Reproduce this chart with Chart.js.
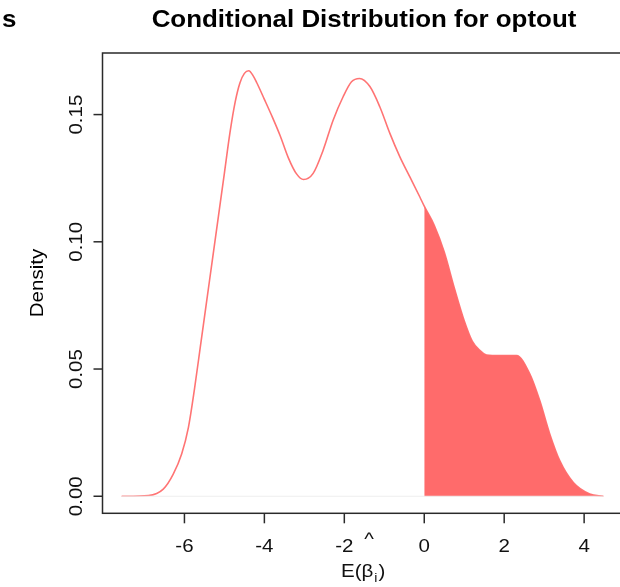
<!DOCTYPE html>
<html>
<head>
<meta charset="utf-8">
<script src="https://cdn.jsdelivr.net/npm/chart.js@4.4.0/dist/chart.umd.min.js"></script>
<style>
html, body { margin: 0; padding: 0; overflow: hidden; background: #fff; }
</style>
</head>
<body>
<canvas id="densityChart" width="625" height="587"></canvas>
<script>
// density estimate
const xs = [-7.57, -6.90, -6.53, -6.28, -6.07, -5.90, -5.75, -5.60, -5.45, -5.30, -5.15, -5.00,
    -4.86, -4.73, -4.61, -4.50, -4.39, -4.28, -4.19, -4.00, -3.80, -3.60, -3.40, -3.20, -3.02, -2.78,
    -2.53, -2.28, -2.03, -1.82, -1.62, -1.36, -1.11, -0.86, -0.61, -0.36, -0.11, 0, 0.25, 0.50, 0.75,
    1.00, 1.20, 1.39, 1.56, 1.90, 2.31, 2.64, 2.89, 3.14, 3.39, 3.73, 4.14, 4.48];
const ys = [0, 0.0003, 0.0028, 0.0087, 0.0166, 0.0271, 0.0420, 0.0590, 0.0760, 0.0930, 0.1100, 0.1270,
    0.1430, 0.1550, 0.1625, 0.1662, 0.1672, 0.1652, 0.1625, 0.1560, 0.1490, 0.1415, 0.1330, 0.1268, 0.1245, 0.1269,
    0.1360, 0.1478, 0.1570, 0.1629, 0.1642, 0.1610, 0.1530, 0.1426, 0.1334, 0.1255, 0.1176, 0.1140, 0.1065, 0.0960, 0.0820,
    0.0690, 0.0610, 0.0573, 0.0555, 0.0553, 0.0553, 0.0481, 0.0376, 0.0245, 0.0140, 0.0054, 0.0009, 0];
const cutoff = 0;

const xTicks = [-6, -4, -2, 0, 2, 4];
const yTicks = [0, 0.05, 0.10, 0.15];
const yTickLabels = ['0.00', '0.05', '0.10', '0.15'];

const curve = xs.map((x, i) => ({ x: x, y: ys[i] }));
const tail = curve.filter(p => p.x >= cutoff);
const zeroLine = [{ x: xs[0], y: 0 }, { x: xs[xs.length - 1], y: 0 }];

const FONT = '"Liberation Sans", Arial, sans-serif';
const STRETCH = 1.08;

function drawText(ctx, text, x, y, font, align, rot) {
    ctx.save();
    ctx.translate(x, y);
    ctx.rotate(rot || 0);
    ctx.scale(STRETCH, 1);
    ctx.font = font;
    ctx.textAlign = align;
    ctx.textBaseline = 'alphabetic';
    ctx.fillText(text, 0, 0);
    ctx.restore();
}

const axesPlugin = {
    id: 'rAxes',
    afterDraw(chart) {
        const ctx = chart.ctx;
        const a = chart.chartArea;
        const xs_ = chart.scales.x, ys_ = chart.scales.y;
        ctx.save();
        ctx.strokeStyle = '#2a2a2a';
        ctx.lineWidth = 1.5;
        ctx.strokeRect(a.left, a.top, a.right - a.left, a.bottom - a.top);

        ctx.fillStyle = '#111';
        // x axis ticks
        xTicks.forEach(v => {
            const px = xs_.getPixelForValue(v);
            ctx.beginPath();
            ctx.moveTo(px, a.bottom);
            ctx.lineTo(px, a.bottom + 10);
            ctx.stroke();
            drawText(ctx, String(v), px, 552, '19px ' + FONT, 'center');
        });
        // y axis ticks
        yTicks.forEach((v, i) => {
            const py = ys_.getPixelForValue(v);
            ctx.beginPath();
            ctx.moveTo(a.left, py);
            ctx.lineTo(a.left - 9, py);
            ctx.stroke();
            drawText(ctx, yTickLabels[i], 81.5, py, '19px ' + FONT, 'center', -Math.PI / 2);
        });

        // titles
        ctx.fillStyle = '#000';
        drawText(ctx, 'Conditional Distribution for optout', 364, 27, 'bold 24px ' + FONT, 'center');
        drawText(ctx, 's', 2, 27, 'bold 24px ' + FONT, 'left');
        drawText(ctx, 'Density', 43, 283, '19px ' + FONT, 'center', -Math.PI / 2);

        // x label E(beta-hat_i)
        ctx.fillStyle = '#111';
        let x = 341;
        ctx.font = '19px ' + FONT;
        drawText(ctx, 'E(β', x, 577, '19px ' + FONT, 'left');
        x += ctx.measureText('E(β').width * STRETCH + 1;
        ctx.font = '13px ' + FONT;
        drawText(ctx, 'i', x, 582, '13px ' + FONT, 'left');
        x += ctx.measureText('i').width * STRETCH + 1;
        drawText(ctx, ')', x, 577, '19px ' + FONT, 'left');
        drawText(ctx, '^', 369, 545, '19px ' + FONT, 'center');
        ctx.restore();
    }
};

new Chart(document.getElementById('densityChart').getContext('2d'), {
    type: 'line',
    data: {
        datasets: [
            {
                data: zeroLine,
                borderColor: '#eeeeee',
                borderWidth: 1,
                pointRadius: 0,
                fill: false
            },
            {
                data: tail,
                borderColor: '#ff6b6b',
                borderWidth: 0,
                backgroundColor: '#ff6b6b',
                pointRadius: 0,
                cubicInterpolationMode: 'monotone',
                fill: 'origin'
            },
            {
                data: curve,
                borderColor: '#ff7474',
                borderWidth: 1.6,
                pointRadius: 0,
                cubicInterpolationMode: 'monotone',
                fill: false
            }
        ]
    },
    options: {
        responsive: false,
        animation: false,
        layout: { padding: { left: 102.5, top: 53, right: 2.5, bottom: 73.7 } },
        plugins: { legend: { display: false }, tooltip: { enabled: false } },
        scales: {
            x: { type: 'linear', min: -8.05, max: 4.96, display: false },
            y: { min: -0.0067, max: 0.1742, display: false }
        }
    },
    plugins: [axesPlugin]
});
</script>
</body>
</html>
